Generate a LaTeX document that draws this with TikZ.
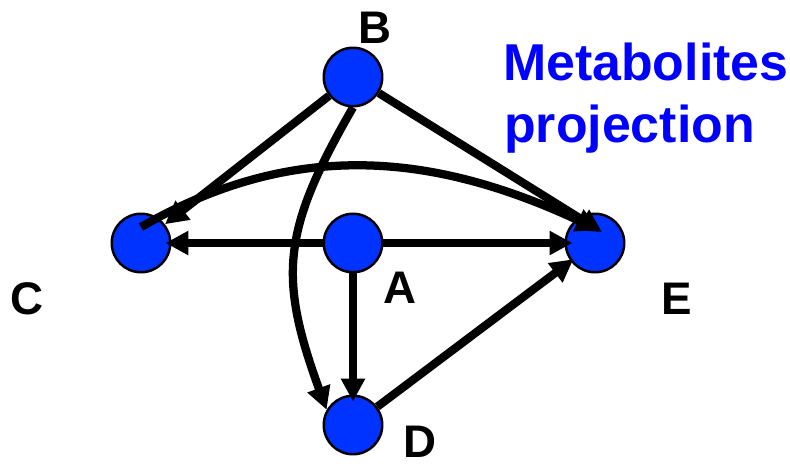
\documentclass[tikz,border=0pt]{standalone}
\usepackage{fontspec}
\setmainfont{Liberation Sans}
\usepackage{tikz}
\usetikzlibrary{arrows.meta}

\definecolor{metblue}{RGB}{0,51,255}
\definecolor{titleblue}{RGB}{0,0,255}

\begin{document}
\begin{tikzpicture}
 [met node/.style={circle,fill=metblue,draw,line width=1.4pt,minimum size=1.17cm,inner sep=0pt},
  name node/.style={inner sep=0pt,font=\fontsize{26}{30}\selectfont\bfseries},
  flow/.style={line width=4.7pt,-{Triangle[length=13pt,width=13pt]}}]

\useasboundingbox (-7.06,-4.48) rectangle (8.74,4.86);

\node[met node] (A) {};
  \node[met node] (B) [node distance=3.32cm, above of=A] {};
\node[met node] (C) [node distance=4.24cm, left of=A] {};
 \node[met node] (E) [node distance=4.84cm, right of=A] {};
 \node[met node] (D) [node distance=3.64cm, below of=A] {};

  \node[name node] (lA) at ([shift={(0.94,-0.90)}]A) {A};
  \node[name node] (lB) at ([shift={(0.44,0.98)}]B) {B};
  \node[name node] (lC) at ([shift={(-2.28,-1.12)}]C) {C};
  \node[name node] (lD) at ([shift={(1.34,-0.34)}]D) {D};
  \node[name node] (lE) at ([shift={(1.63,-1.11)}]E) {E};

  \node[anchor=base west, text=titleblue, font=\fontsize{29.5}{34}\selectfont\bfseries] (t1) at (2.88,3.26) {Metabolites};
  \node[anchor=base west, text=titleblue, font=\fontsize{29.5}{34}\selectfont\bfseries] (t2) at (2.9,2.02) {projection};

\path
  (A) edge [flow, shorten >=-3.4pt] (C)
  (A) edge [flow, shorten >=-4.5pt] (E)
  (A) edge [flow, shorten >=-4pt] (D)
  (B) edge [flow] (C)
  (B) edge [flow] ([shift={(0.14,0.22)}]E.center)
  (D) edge [flow, shorten >=-2pt] (E)
  (B.south) edge [flow, out=240, in=110, looseness=1.2] (D.150)
  ([yshift=0.32cm]C.center) edge [flow, out=30, in=155] ([shift={(0.08,0.26)}]E.center);

\end{tikzpicture}
\end{document}
